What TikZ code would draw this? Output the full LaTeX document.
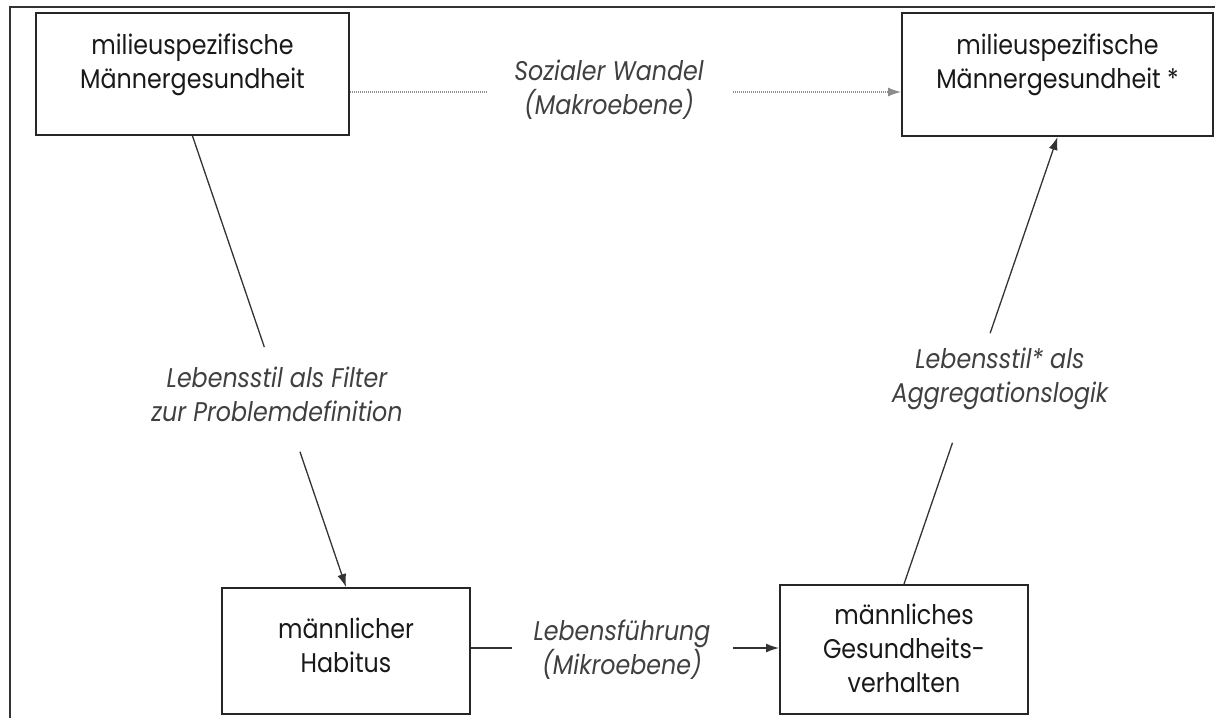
\documentclass[tikz,border=0pt]{standalone}
\usepackage{fontspec}
\setmainfont{Poppins}[FakeStretch=0.88]
\usetikzlibrary{arrows.meta}

\tikzset{
	box/.style={draw=black!85, line width=2pt, inner sep=0pt},
	boxtext/.style={align=center, font=\fontsize{27}{34}\selectfont, text=black!90},
	lbl/.style={align=center, font=\fontsize{27}{34}\selectfont\itshape, text=black!75},
	link/.style={draw=black!80, line width=1.3pt},
	tip/.style={-{Latex[length=13pt,width=9pt]}},
	dots/.style={draw=black!45, line width=1.2pt, dash pattern=on 1pt off 1pt}
}

\begin{document}
\begin{tikzpicture}[x=1pt,y=-1pt]
	\useasboundingbox (0,0) rectangle (1215,718);
	% frame
	\draw[black!80,line width=1.7pt] (10,718) -- (10,7) -- (1215,7);

	% boxes
	\node[box,minimum width=313,minimum height=122] (mlA) at (192.5,74) {};
	\node[boxtext] (mlAtext) at (192.5,65) {milieuspezifische\\Männergesundheit};
	\node[box,minimum width=311,minimum height=123] (mlB) at (1057.5,74.5) {};
	\node[boxtext] (mlBtext) at (1057.5,65) {milieuspezifische\\Männergesundheit *};
	\node[box,minimum width=248,minimum height=126] (habitus) at (346,651) {};
	\node[boxtext] (habitustext) at (346,645) {männlicher\\Habitus};
	\node[box,minimum width=248,minimum height=129] (verhalten) at (904,649.5) {};
	\node[boxtext] (verhaltentext) at (904,648) {männliches\\Gesundheits-\\verhalten};

	% labels
	\node[lbl] (wandel) at (609,90) {Sozialer Wandel\\(Makroebene)};
	\node[lbl] (fuehrung) at (622,650) {Lebensführung\\(Mikroebene)};
	\node[lbl] (filter) at (277,394) {Lebensstil als Filter\\zur Problemdefinition};
	\node[lbl] (aggregation) at (1000,379) {Lebensstil* als\\Aggregationslogik};

	% connectors
	\coordinate (wandelL) at (488,92);
	\coordinate (wandelR) at (733,92);
	\draw[dots] (mlA.east |- wandelL) -- (wandelL);
	\draw[dots,tip] (wandelR) -- (mlB.west |- wandelR);
	\coordinate (fuehrungL) at (512,648);
	\coordinate (fuehrungR) at (733,648);
	\draw[link] (habitus.east |- fuehrungL) -- (fuehrungL);
	\draw[link,tip] (fuehrungR) -- (verhalten.west |- fuehrungR);
	\path (mlA.south) -- coordinate[pos=0.468] (filterA) coordinate[pos=0.70] (filterB) (habitus.north);
	\draw[link] (mlA.south) -- (filterA);
	\draw[link,tip] (filterB) -- (habitus.north);
	\path (verhalten.north) -- coordinate[pos=0.316] (aggrA) coordinate[pos=0.561] (aggrB) (mlB.south);
	\draw[link] (verhalten.north) -- (aggrA);
	\draw[link,tip] (aggrB) -- (mlB.south);
\end{tikzpicture}
\end{document}
